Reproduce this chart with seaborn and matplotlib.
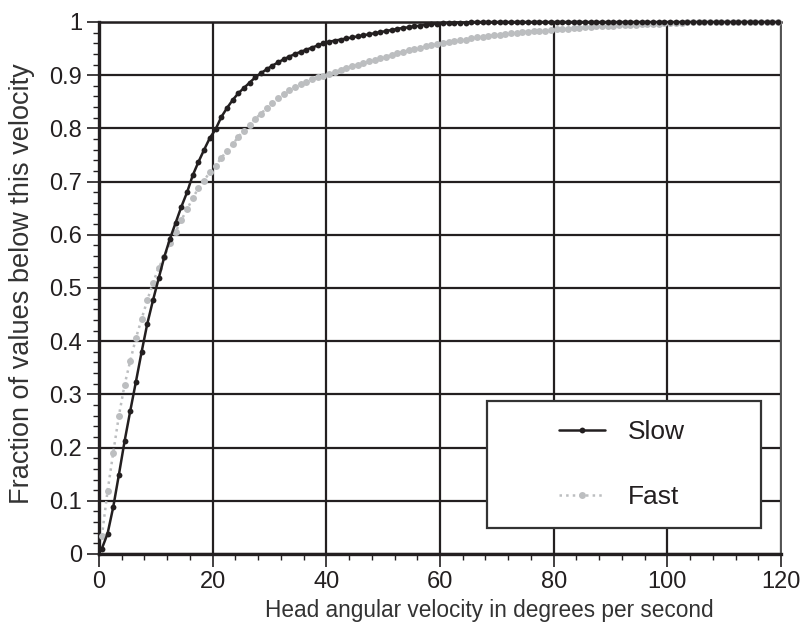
import numpy as np
import pandas as pd
import seaborn as sns
import matplotlib
matplotlib.use("Agg")
import matplotlib.pyplot as plt
from matplotlib.ticker import MultipleLocator, FuncFormatter
from matplotlib.patches import Rectangle
from matplotlib.lines import Line2D
from matplotlib.legend_handler import HandlerLine2D

# Head angular velocity bin centres (deg/s)
velocity = np.arange(120) + 0.5

# Cumulative fraction of samples below each velocity
slow_cdf = [
    0.010, 0.038, 0.088, 0.149, 0.212, 0.269, 0.324, 0.380, 0.433, 0.477,
    0.518, 0.559, 0.593, 0.623, 0.653, 0.680, 0.712, 0.737, 0.760, 0.782,
    0.798, 0.821, 0.838, 0.853, 0.866, 0.876, 0.886, 0.896, 0.904, 0.911,
    0.918, 0.924, 0.930, 0.935, 0.940, 0.944, 0.948, 0.952, 0.956, 0.960,
    0.963, 0.965, 0.967, 0.969, 0.971, 0.973, 0.975, 0.977, 0.979, 0.981,
    0.983, 0.985, 0.987, 0.989, 0.990, 0.992, 0.993, 0.995, 0.996, 0.997,
    0.998, 0.998, 0.999, 0.999, 0.999, 1.000, 1.000, 1.000, 1.000, 1.000,
    1.000, 1.000, 1.000, 1.000, 1.000, 1.000, 1.000, 1.000, 1.000, 1.000,
    1.000, 1.000, 1.000, 1.000, 1.000, 1.000, 1.000, 1.000, 1.000, 1.000,
    1.000, 1.000, 1.000, 1.000, 1.000, 1.000, 1.000, 1.000, 1.000, 1.000,
    1.000, 1.000, 1.000, 1.000, 1.000, 1.000, 1.000, 1.000, 1.000, 1.000,
    1.000, 1.000, 1.000, 1.000, 1.000, 1.000, 1.000, 1.000, 1.000, 1.000,
]

fast_cdf = [
    0.033, 0.118, 0.190, 0.260, 0.318, 0.363, 0.406, 0.442, 0.477, 0.510,
    0.538, 0.559, 0.585, 0.606, 0.628, 0.648, 0.669, 0.688, 0.702, 0.718,
    0.730, 0.744, 0.758, 0.770, 0.784, 0.796, 0.807, 0.818, 0.828, 0.838,
    0.848, 0.857, 0.865, 0.872, 0.878, 0.884, 0.888, 0.892, 0.896, 0.899,
    0.902, 0.906, 0.910, 0.914, 0.917, 0.920, 0.923, 0.926, 0.929, 0.932,
    0.935, 0.938, 0.941, 0.944, 0.947, 0.950, 0.952, 0.954, 0.956, 0.958,
    0.960, 0.962, 0.964, 0.966, 0.967, 0.969, 0.971, 0.972, 0.974, 0.975,
    0.976, 0.977, 0.979, 0.980, 0.981, 0.982, 0.983, 0.984, 0.984, 0.985,
    0.986, 0.986, 0.987, 0.988, 0.989, 0.990, 0.991, 0.992, 0.992, 0.993,
    0.993, 0.994, 0.994, 0.995, 0.995, 0.996, 0.996, 0.997, 0.997, 0.998,
    0.998, 0.999, 0.999, 1.000, 1.000, 1.000, 1.000, 1.000, 1.000, 1.000,
    1.000, 1.000, 1.000, 1.000, 1.000, 1.000, 1.000, 1.000, 1.000, 1.000,
]

series_labels = ["Slow", "Fast"]
x_ticks = [0, 20, 40, 60, 80, 100, 120]
y_ticks = [0, 0.1, 0.2, 0.3, 0.4, 0.5, 0.6, 0.7, 0.8, 0.9, 1.0]

sns.set_theme(style="ticks")
plt.rcParams["font.family"] = ["Liberation Sans", "DejaVu Sans"]

INK = "#231f20"
GREY = "#bcbec0"

slow_style = dict(color=INK, linestyle="-", linewidth=1.8, marker="o",
                  markersize=4.2, markeredgewidth=0, markerfacecolor=INK)
fast_style = dict(color=GREY, linestyle=":", linewidth=1.8, marker="o",
                  markersize=5.0, markeredgewidth=0, markerfacecolor=GREY)

fig = plt.figure(figsize=(8.05, 6.35), dpi=100)
ax = fig.add_axes([99 / 805, 1 - 554 / 635, 682 / 805, 532 / 635])

df_slow = pd.DataFrame({"v": velocity, "f": slow_cdf})
df_fast = pd.DataFrame({"v": velocity, "f": fast_cdf})

sns.lineplot(data=df_fast, x="v", y="f", ax=ax, clip_on=False, zorder=3,
             legend=False, **fast_style)
sns.lineplot(data=df_slow, x="v", y="f", ax=ax, clip_on=False, zorder=4,
             legend=False, **slow_style)

ax.set_xlim(0, 120)
ax.set_ylim(0, 1)
ax.set_xticks(x_ticks)
ax.set_yticks(y_ticks)
ax.xaxis.set_minor_locator(MultipleLocator(4))
ax.yaxis.set_minor_locator(MultipleLocator(0.02))
ax.yaxis.set_major_formatter(FuncFormatter(lambda v, p: f"{v:g}"))

ax.grid(True, which="major", color=INK, linewidth=1.6, zorder=1)
ax.set_axisbelow(True)

ax.tick_params(axis="both", which="major", direction="out", length=9,
               width=1.2, color=INK, labelsize=17, labelcolor=INK, pad=3)
ax.tick_params(axis="both", which="minor", direction="out", length=4,
               width=1.0, color=INK)
ax.tick_params(axis="x", which="both", top=False)
ax.tick_params(axis="y", which="both", right=False)

for side in ["left", "bottom"]:
    ax.spines[side].set_color(INK)
    ax.spines[side].set_linewidth(2.4)
ax.spines["top"].set_color(INK)
ax.spines["top"].set_linewidth(1.8)
ax.spines["right"].set_color("#555555")
ax.spines["right"].set_linewidth(1.4)

ax.set_xlabel("Head angular velocity in degrees per second", fontsize=16.3,
              color="#333333")
ax.xaxis.set_label_coords(0.573, -0.085)
ax.set_ylabel("Fraction of values below this velocity", fontsize=19.5,
              color="#333333")
ax.yaxis.set_label_coords(-0.094, 0.509)

# Legend box drawn as a plain rectangle with the entries centred inside
box = Rectangle((0.569, 0.049), 0.402, 0.239, transform=ax.transAxes,
                facecolor="white", edgecolor="#333333", linewidth=1.6,
                zorder=5)
ax.add_patch(box)
handles = [Line2D([], [], **slow_style), Line2D([], [], **fast_style)]
leg = ax.legend(handles, series_labels, loc="center",
                bbox_to_anchor=(0.767, 0.168), frameon=False, fontsize=19,
                handlelength=1.75, handletextpad=0.85, labelspacing=1.55,
                handler_map={Line2D: HandlerLine2D(numpoints=1)})
leg.set_zorder(6)
for t in leg.get_texts():
    t.set_color(INK)

fig.savefig("out.png", dpi=100)
